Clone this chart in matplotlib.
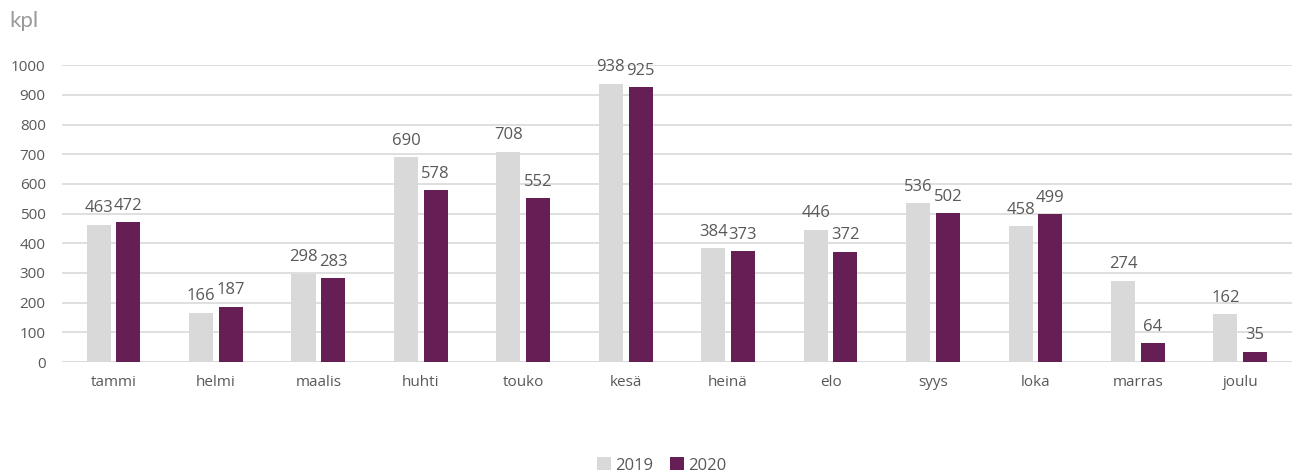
import matplotlib
matplotlib.use("Agg")
import matplotlib.pyplot as plt
import numpy as np

months = ["tammi", "helmi", "maalis", "huhti", "touko", "kesä", "heinä", "elo", "syys", "loka", "marras", "joulu"]
v2019 = [463, 166, 298, 690, 708, 938, 384, 446, 536, 458, 274, 162]
v2020 = [472, 187, 283, 578, 552, 925, 373, 372, 502, 499, 64, 35]
years = ["2019", "2020"]
yticks = [0, 100, 200, 300, 400, 500, 600, 700, 800, 900, 1000]

c19 = "#d9d9d9"
c20 = "#661f55"
tc = "#595959"

plt.rcParams['font.family'] = ['Open Sans', 'DejaVu Sans']

fig = plt.figure(figsize=(12.98, 4.72), dpi=100)
ax = fig.add_axes([0.048, 0.233, 0.947, 0.629])

x = np.arange(len(months))
w = 0.235
off = 0.145
b1 = ax.bar(x - off, v2019, w, color=c19, label=years[0], zorder=3)
b2 = ax.bar(x + off, v2020, w, color=c20, label=years[1], zorder=3)

for bars, vals in ((b1, v2019), (b2, v2020)):
    for r, v in zip(bars, vals):
        ax.annotate(str(v), (r.get_x() + r.get_width() / 2, v), xytext=(0, 6),
                    textcoords="offset points", ha="center", va="bottom",
                    fontsize=12, color=tc)

ax.set_xlim(-0.5, len(months) - 0.5)
ax.set_ylim(0, 1000)
ax.set_yticks(yticks)
ax.set_xticks(x)
ax.set_xticklabels(months)
ax.tick_params(axis='both', length=0, labelsize=11, colors=tc)
ax.tick_params(axis='x', pad=9)
ax.tick_params(axis='y', pad=12)
ax.yaxis.grid(True, color="#d9d9d9", linewidth=1.2, zorder=0)
for s in ax.spines.values():
    s.set_visible(False)
ax.axhline(0, color="#d9d9d9", linewidth=1.2, zorder=2)

fig.text(0.007, 0.955, "kpl", fontsize=16, color="#9a9a9a", va="center", ha="left", family=['Lato', 'DejaVu Sans'])

leg = fig.legend(handles=[b1, b2], labels=years, loc="lower center", bbox_to_anchor=(0.51, -0.035),
                 ncol=2, frameon=False, fontsize=12, handlelength=0.8, handleheight=0.8,
                 columnspacing=1.0, handletextpad=0.3, labelcolor=tc)

fig.savefig("out.png", dpi=100)
